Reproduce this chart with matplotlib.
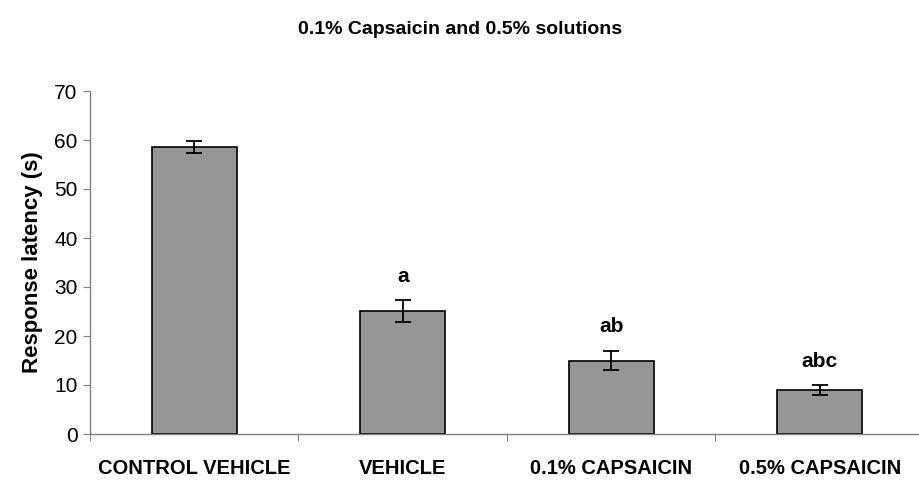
import matplotlib.pyplot as plt
import numpy as np

plt.rcParams['font.family'] = ['Liberation Sans', 'DejaVu Sans']

# data
groups = ['CONTROL VEHICLE', 'VEHICLE', '0.1% CAPSAICIN', '0.5% CAPSAICIN']
latency = [58.6, 25.1, 15.0, 8.9]
err = [1.2, 2.2, 1.9, 1.0]
letters = ['', 'a', 'ab', 'abc']

fig = plt.figure(figsize=(9.2, 4.83), dpi=100)
ax = fig.add_axes([90 / 920, 1 - 434 / 483, 834 / 920, 343 / 483])

x = np.arange(len(groups))
ax.bar(x, latency, width=0.41, color='#969696', edgecolor='black', linewidth=1.2, zorder=2)
ax.errorbar(x, latency, yerr=err, fmt='none', ecolor='black', elinewidth=1.3,
            capsize=6, capthick=1.3, zorder=3)

for xi, v, e, lab in zip(x, latency, err, letters):
    if lab:
        ax.text(xi, v + e + 3.0, lab, ha='center', va='bottom', fontsize=15, fontweight='bold')

ax.set_xlim(-0.5, len(groups) - 0.5)
ax.set_ylim(0, 70)
ax.set_yticks(range(0, 71, 10))
ax.tick_params(axis='y', labelsize=15, length=5, color='#808080', direction='out', pad=4)

# category boundaries as major ticks, labels at centers
ax.set_xticks(np.arange(-0.5, len(groups), 1.0))
ax.set_xticklabels([])
ax.set_xticks(x, minor=True)
ax.set_xticklabels(groups, minor=True, fontsize=14.5, fontweight='bold')
ax.tick_params(axis='x', which='major', length=5, color='#808080', direction='out')
ax.tick_params(axis='x', which='minor', length=0, pad=18)

for s in ['top', 'right']:
    ax.spines[s].set_visible(False)
for s in ['left', 'bottom']:
    ax.spines[s].set_color('#808080')
    ax.spines[s].set_linewidth(1.0)

ax.set_ylabel('Response latency (s)', fontsize=16, fontweight='bold', labelpad=8)
fig.text(0.5, 1 - 30 / 483, '0.1% Capsaicin and 0.5% solutions', ha='center', va='center',
         fontsize=14, fontweight='bold')

fig.savefig('out.png', dpi=100)
